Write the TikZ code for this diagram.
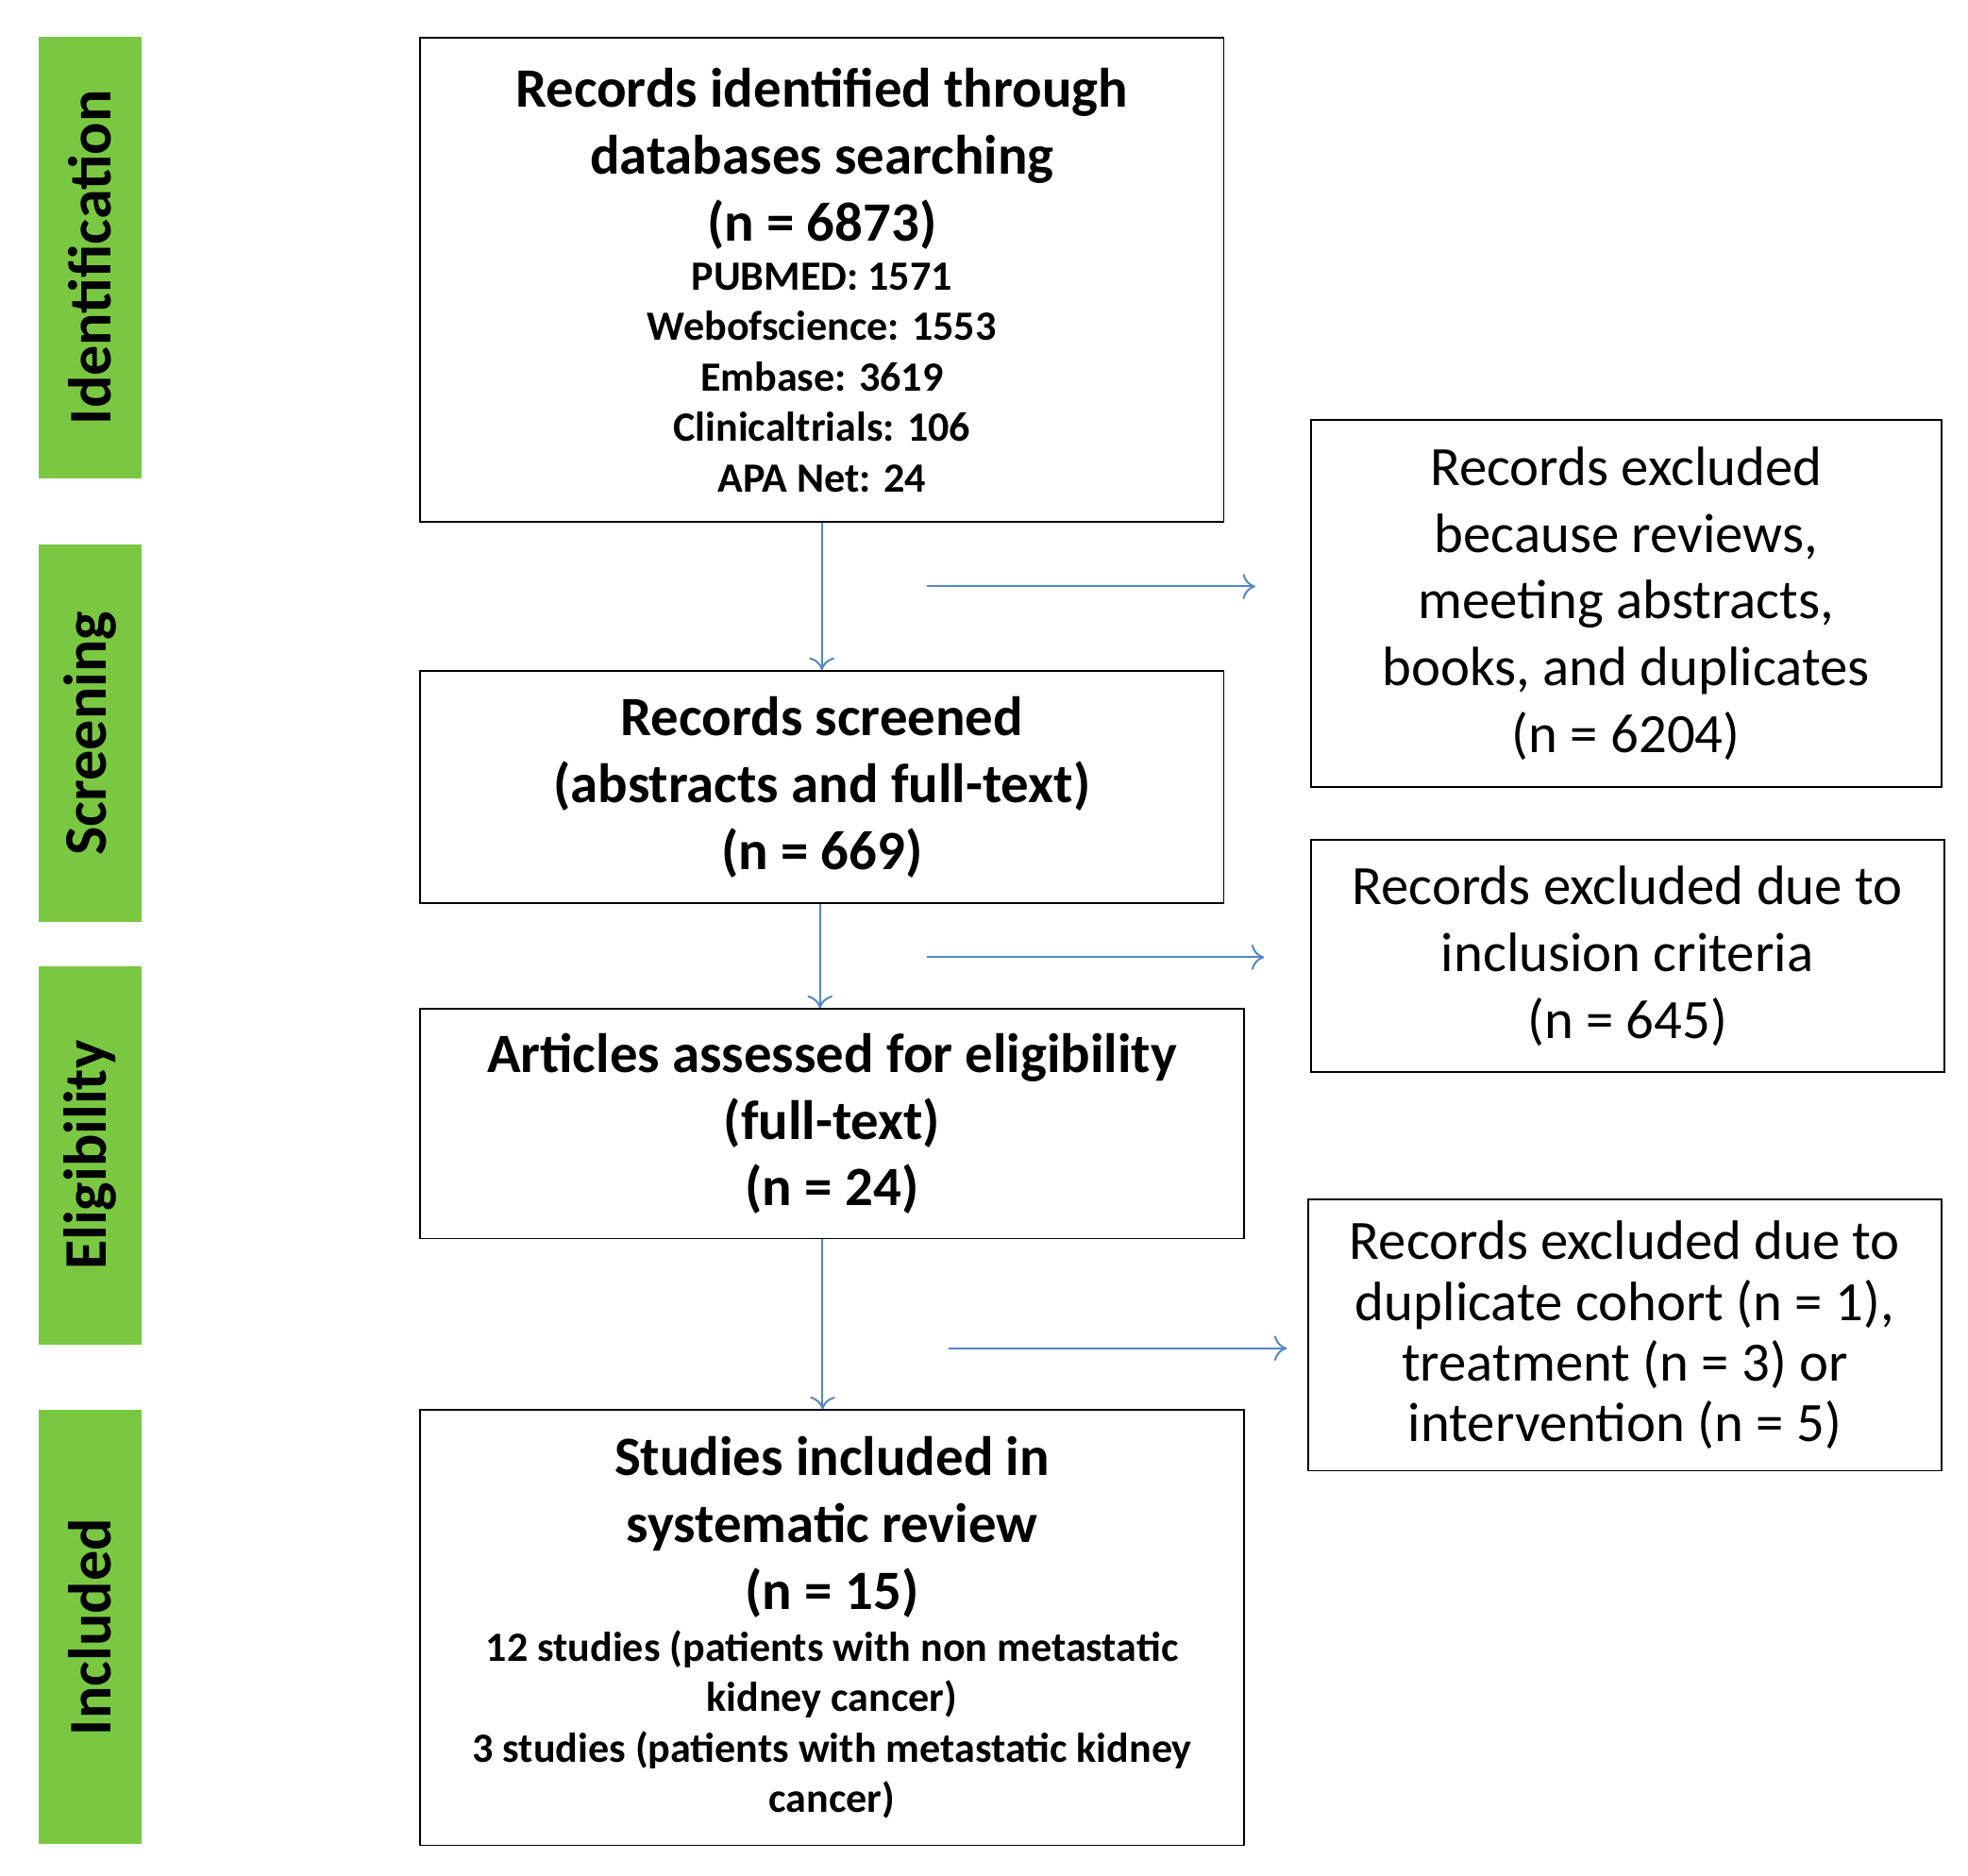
\documentclass[tikz,border=0pt]{standalone}
\usepackage{fontspec}
\setmainfont{Carlito}
\usetikzlibrary{arrows.meta}
\definecolor{grn}{RGB}{122,200,66}
\definecolor{arr}{RGB}{84,135,190}
\newcommand{\bigf}{\fontsize{44}{53}\selectfont}
\newcommand{\smallf}{\fontsize{33}{40}\selectfont}
\begin{document}
\begin{tikzpicture}[x=1pt,y=-1pt,
 box/.style={draw,line width=1.3pt,inner sep=0pt,align=center},
 phase/.style={fill=grn,inner sep=0pt,minimum height=81pt,rotate=90,font=\bfseries\fontsize{48}{56}\selectfont},
 big/.style={font=\bfseries\bigf},
 con/.style={draw=arr,line width=1.5pt,-{To[length=10pt,width=20pt]}}]
\useasboundingbox (0,0) rectangle (1560,1487);
% phases
\node[phase,minimum width=350pt] (p1) at (71.5,204) {Identification};
\node[phase,minimum width=299pt] (p2) at (71.5,581.5) {Screening};
\node[phase,minimum width=300pt] (p3) at (71.5,916) {Eligibility};
\node[phase,minimum width=344pt] (p4) at (71.5,1290) {Included};
% main boxes
\node[box,font=\bfseries\bigf,minimum width=637pt,minimum height=384pt] (b1) at (651.5,222)
 {Records identified through\\databases searching\\(n = 6873)\\[-14pt]\smallf PUBMED: 1571\\[-13pt]\smallf Webofscience: 1553\\[-13pt]\smallf Embase: 3619\\[-13pt]\smallf Clinicaltrials: 106\\[-13pt]\smallf APA Net: 24};
\node[box,big,minimum width=637pt,minimum height=184pt] (b2) at (651.5,624)
 {Records screened\\(abstracts and full-text)\\(n = 669)};
\node[box,big,minimum width=653pt,minimum height=182pt] (b3) at (659.5,891)
 {Articles assessed for eligibility\\(full-text)\\(n = 24)};
\node[box,font=\bfseries\bigf,minimum width=653pt,minimum height=345pt] (b4) at (659.5,1290.5)
 {Studies included in\\systematic review\\(n = 15)\\[-12pt]\smallf 12 studies (patients with non metastatic\\[-13pt]\smallf kidney cancer)\\[-13pt]\smallf 3 studies (patients with metastatic kidney\\[-13pt]\smallf cancer)};
% right boxes
\node[box,font=\bigf,minimum width=500pt,minimum height=291pt] (r1) at (1289,478.5)
 {Records excluded\\because reviews,\\meeting abstracts,\\books, and duplicates\\(n = 6204)};
\node[box,font=\bigf,minimum width=502pt,minimum height=184pt] (r2) at (1290,758)
 {Records excluded due to\\inclusion criteria\\(n = 645)};
\node[box,font=\fontsize{44}{48}\selectfont,minimum width=502pt,minimum height=215pt] (r3) at (1288,1058.5)
 {Records excluded due to\\duplicate cohort (n = 1),\\treatment (n = 3) or\\intervention (n = 5)};
% arrows
\draw[con] (b1.south) -- (b2.north);
\draw[con] ([xshift=-1.5pt]b2.south) -- ([xshift=-9.5pt]b3.north);
\draw[con] ([xshift=-7.5pt]b3.south) -- ([xshift=-7.5pt]b4.north);
\coordinate (s1) at (735,465); \coordinate (e1) at (995,465);
\coordinate (s2) at (735,759); \coordinate (e2) at (1002,759);
\coordinate (s3) at (752,1069); \coordinate (e3) at (1020,1069);
\draw[con] (s1) -- (e1);
\draw[con] (s2) -- (e2);
\draw[con] (s3) -- (e3);
\end{tikzpicture}
\end{document}
